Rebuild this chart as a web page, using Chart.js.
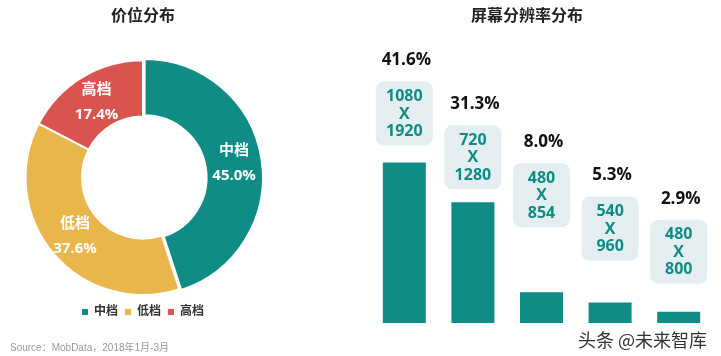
<!DOCTYPE html>
<html>
<head>
<meta charset="utf-8">
<script src="https://cdn.jsdelivr.net/npm/chart.js@4"></script>
<style>
  body { margin: 0; background: #fff; }
  #wrap { position: relative; width: 721px; height: 356px; overflow: hidden; background: #fff; }
  #box1 { position: absolute; left: 0; top: 0; width: 286px; height: 356px; }
  #box2 { position: absolute; left: 341px; top: 0; width: 380px; height: 356px; }
  #source { position: absolute; left: 10px; top: 339px; font: 10px "Liberation Sans", Arial, "Noto Sans CJK SC", sans-serif; color: #9a9a9a; white-space: nowrap; }
  #mark { position: absolute; left: 578px; top: 326px; font: 18px "Noto Sans CJK SC", sans-serif; color: #333; white-space: nowrap;
          text-shadow: 1px 0 #fff, -1px 0 #fff, 0 1px #fff, 0 -1px #fff; }
</style>
</head>
<body>
<div id="wrap">
  <div id="box1"><canvas id="pie"></canvas></div>
  <div id="box2"><canvas id="bars"></canvas></div>
  <div id="source">Source：MobData，2018年1月-3月</div>
  <div id="mark">头条 @未来智库</div>
</div>
<script>
// 价位分布
const priceLabels = ["中档", "低档", "高档"];
const priceShares = [45.0, 37.6, 17.4];
const priceColors = ["#0e8c85", "#e8b64a", "#d9534f"];

// 屏幕分辨率分布
const resolutions = ["1080 X 1920", "720 X 1280", "480 X 854", "540 X 960", "480 X 800"];
const resolutionShares = [41.6, 31.3, 8.0, 5.3, 2.9];

const TEAL = "#0e8c85";
const CJK = "'Open Sans', 'Noto Sans CJK SC', sans-serif";

Chart.defaults.font.family = CJK;
Chart.defaults.animation = false;

// labels in the middle of each slice
const sliceLabels = {
  id: "sliceLabels",
  afterDatasetsDraw(chart) {
    const ctx = chart.ctx;
    const meta = chart.getDatasetMeta(0);
    ctx.save();
    ctx.fillStyle = "#fff";
    ctx.textAlign = "center";
    ctx.textBaseline = "middle";
    ctx.font = "bold 15px " + CJK;
    meta.data.forEach((arc, i) => {
      const p = arc.tooltipPosition();
      ctx.fillText(priceLabels[i], p.x, p.y - 12);
      ctx.fillText(priceShares[i].toFixed(1) + "%", p.x, p.y + 13);
    });
    ctx.restore();
  }
};

new Chart(document.getElementById("pie"), {
  type: "doughnut",
  data: {
    labels: priceLabels,
    datasets: [{
      data: priceShares,
      backgroundColor: priceColors,
      borderColor: "#fff",
      borderWidth: 2,
      offset: [6, 0, 0]
    }]
  },
  options: {
    responsive: true,
    maintainAspectRatio: false,
    cutout: "52%",
    layout: { padding: { bottom: 28 } },
    plugins: {
      title: {
        display: true,
        text: "价位分布",
        color: "#222",
        font: { size: 16, weight: "bold" },
        padding: { top: 7, bottom: 30 }
      },
      legend: {
        position: "bottom",
        labels: {
          boxWidth: 6,
          boxHeight: 6,
          padding: 7,
          color: "#333",
          font: { size: 12, weight: "bold" },
          generateLabels(chart) {
            const items = Chart.overrides.doughnut.plugins.legend.labels.generateLabels(chart);
            items.forEach(it => { it.lineWidth = 0; });
            return items;
          }
        }
      },
      tooltip: { enabled: false }
    }
  },
  plugins: [sliceLabels]
});

// resolution box + percentage above each bar
const barLabels = {
  id: "barLabels",
  afterDatasetsDraw(chart) {
    const ctx = chart.ctx;
    const meta = chart.getDatasetMeta(0);
    const lift = [17, 13, 65, 42, 28];
    ctx.save();
    ctx.textAlign = "center";
    ctx.textBaseline = "middle";
    meta.data.forEach((bar, i) => {
      const bottom = bar.y - lift[i];
      const top = bottom - 64;
      ctx.fillStyle = "#e4eef0";
      ctx.beginPath();
      ctx.roundRect(bar.x - 28.5, top, 57, 64, 8);
      ctx.fill();
      ctx.fillStyle = TEAL;
      ctx.font = "bold 16px " + CJK;
      const parts = resolutions[i].split(" ");
      parts.forEach((t, k) => ctx.fillText(t, bar.x, top + 15 + k * 17.5));
      ctx.fillStyle = "#111";
      ctx.font = "bold 17px " + CJK;
      ctx.fillText(resolutionShares[i].toFixed(1) + "%", bar.x + 2, top - 21);
    });
    ctx.restore();
  }
};

new Chart(document.getElementById("bars"), {
  type: "bar",
  data: {
    labels: resolutions,
    datasets: [{
      data: resolutionShares,
      backgroundColor: TEAL,
      categoryPercentage: 1,
      barPercentage: 0.627
    }]
  },
  options: {
    responsive: true,
    maintainAspectRatio: false,
    layout: { padding: { right: 8, bottom: 33 } },
    scales: {
      x: { display: false },
      y: {
        min: 0,
        max: 70,
        grid: { display: false },
        border: { display: false },
        ticks: { display: false },
        afterFit(scale) { scale.width = 29; }
      }
    },
    plugins: {
      title: {
        display: true,
        text: "屏幕分辨率分布",
        color: "#222",
        font: { size: 16, weight: "bold" },
        padding: { top: 7, bottom: 26.8 }
      },
      legend: { display: false },
      tooltip: { enabled: false }
    }
  },
  plugins: [barLabels]
});
</script>
</body>
</html>
